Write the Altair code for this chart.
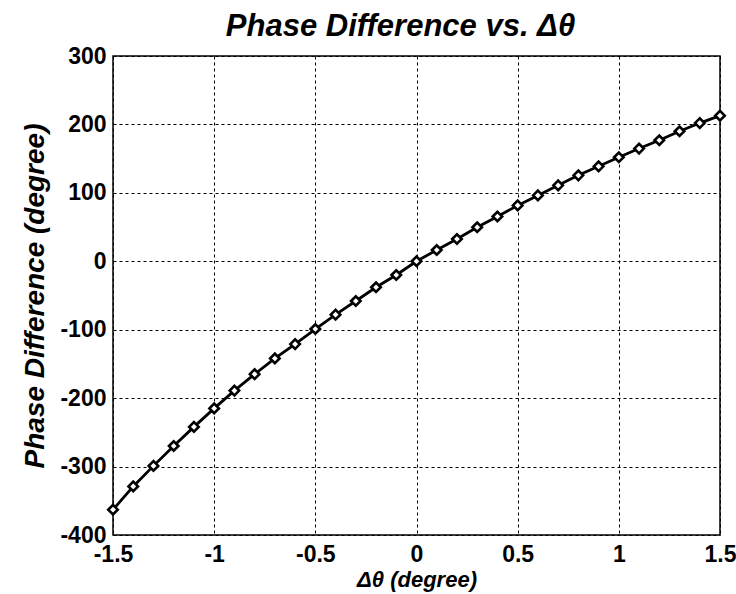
import altair as alt
import pandas as pd

delta_theta = [-1.5, -1.4, -1.3, -1.2, -1.1, -1.0, -0.9, -0.8, -0.7, -0.6, -0.5,
               -0.4, -0.3, -0.2, -0.1, 0.0, 0.1, 0.2, 0.3, 0.4, 0.5,
               0.6, 0.7, 0.8, 0.9, 1.0, 1.1, 1.2, 1.3, 1.4, 1.5]
phase_diff = [-363, -329, -299, -270, -242, -215, -189, -165, -142, -121, -99,
              -78, -58, -38, -20, 0, 16.5, 32.6, 49.8, 65.4, 81.6,
              96.3, 111, 125.6, 138.8, 152, 164.7, 176.9, 190, 202, 212.8]
x_ticks = [-1.5, -1, -0.5, 0, 0.5, 1, 1.5]
y_ticks = [-400, -300, -200, -100, 0, 100, 200, 300]

df = pd.DataFrame({"x": delta_theta, "y": phase_diff})

FONT = "Liberation Sans"

x_enc = alt.X("x:Q", scale=alt.Scale(domain=[-1.5, 1.5], nice=False, zero=False),
              axis=alt.Axis(values=x_ticks, labelExpr="replace(datum.label, '\u2212', '-')",
                            format="~g", title="\u0394\u03b8 (degree)", labelFlush=False,
                            titleFontSize=22))
y_enc = alt.Y("y:Q", scale=alt.Scale(domain=[-400, 300], nice=False, zero=False),
              axis=alt.Axis(values=y_ticks, labelExpr="replace(datum.label, '\u2212', '-')",
                            format="d", title="Phase Difference (degree)", labelFlush=False,
                            titleFontSize=28))

line = alt.Chart(df).mark_line(color="black", strokeWidth=2.8).encode(x=x_enc, y=y_enc)
pts = alt.Chart(df).mark_point(shape="diamond", filled=False, fill="white", fillOpacity=1,
                               stroke="black", strokeWidth=2.6, size=90, opacity=1).encode(x="x:Q", y="y:Q")

chart = (line + pts).properties(
    width=607, height=479,
    background="white",
    title=alt.TitleParams("Phase Difference  vs. \u0394\u03b8", font=FONT, fontSize=31,
                          fontStyle="italic", fontWeight="bold", color="black",
                          anchor="middle", offset=2, dx=-16),
    autosize=alt.AutoSizeParams(type="none"),
    padding={"left": 113, "top": 56, "right": 16, "bottom": 59},
).configure_view(stroke="black", strokeWidth=1.5, fill="white").configure_axis(
    grid=True, gridColor="black", gridDash=[3, 3], gridWidth=1, gridOpacity=1,
    domain=False, ticks=False,
    labelFont=FONT, labelFontSize=23, labelFontWeight="bold", labelColor="black",
    titleFont=FONT, titleFontWeight="bold", titleFontStyle="italic",
    titleColor="black",
).configure_axisX(titlePadding=3, labelPadding=8).configure_axisY(titlePadding=10, labelPadding=7)

chart.save("out.html", embed_options={"renderer": "svg", "actions": False})
